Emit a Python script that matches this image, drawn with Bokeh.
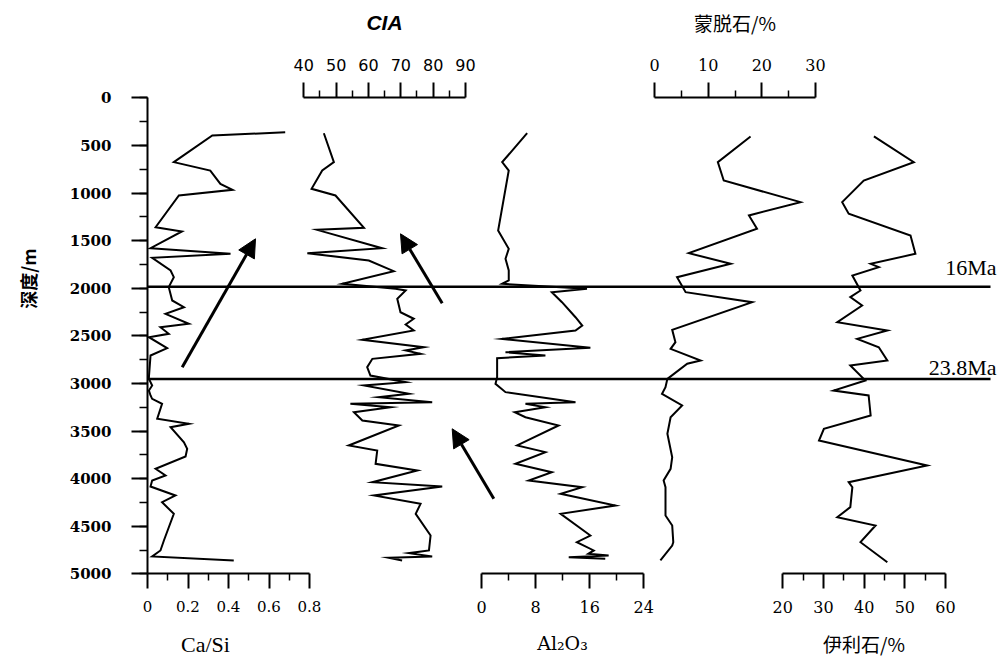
from math import pi
from bokeh.plotting import figure
from bokeh.models import Range1d, LinearAxis, FixedTicker, SingleIntervalTicker, Arrow, NormalHead
from bokeh.core.properties import value
from bokeh.embed import file_html
from bokeh.resources import INLINE

# ---------------- data ----------------
casi_depth = [363, 396, 676, 764, 904, 967, 1026, 1359, 1404, 1580, 1639, 1681, 1814, 1884, 1989, 2129,
              2200, 2269, 2374, 2410, 2479, 2515, 2630, 2707, 2935, 2952, 3022, 3075, 3127, 3162, 3215,
              3372, 3424, 3460, 3618, 3687, 3768, 3897, 3967, 4020, 4083, 4177, 4248, 4370, 4650, 4755,
              4818, 4860]
casi = [0.68, 0.32, 0.13, 0.31, 0.36, 0.42, 0.155, 0.04, 0.17, 0.015, 0.41, 0.023, 0.114, 0.13, 0.105,
        0.122, 0.18, 0.089, 0.204, 0.064, 0.105, 0.007, 0.097, 0.015, 0.007, 0.007, 0.023, 0.007, 0.015,
        0.023, 0.072, 0.048, 0.204, 0.114, 0.18, 0.196, 0.188, 0.04, 0.089, 0.023, 0.015, 0.138, 0.072,
        0.13, 0.081, 0.064, 0.023, 0.426]

cia_depth = [372, 676, 764, 956, 1026, 1366, 1387, 1580, 1632, 1709, 1821, 1954, 2006, 2024, 2111, 2252,
             2321, 2381, 2444, 2542, 2620, 2654, 2689, 2742, 2830, 2917, 2987, 3022, 3109, 3145, 3197,
             3215, 3250, 3303, 3390, 3442, 3652, 3705, 3845, 3915, 4038, 4083, 4177, 4265, 4370, 4598,
             4755, 4783, 4818, 4832, 4860]
cia = [46.2, 49.3, 45.7, 42.4, 49.8, 58.6, 44.1, 64.2, 41.1, 60.1, 67.8, 51.9, 68.4, 71.5, 68.9, 69.9,
       74.0, 71.5, 74.0, 58.1, 77.1, 71.5, 76.1, 61.2, 59.6, 60.6, 71.5, 58.6, 72.5, 63.2, 79.7, 54.4,
       66.8, 55.5, 58.1, 69.4, 53.9, 62.7, 62.2, 75.1, 61.2, 82.8, 61.7, 76.1, 74.6, 79.2, 78.7, 72.5,
       79.7, 66.3, 70.4]

al_depth = [372, 676, 764, 1394, 1586, 1691, 1814, 1919, 1954, 2006, 2042, 2147, 2305, 2392, 2444, 2532,
            2626, 2672, 2707, 2735, 2935, 3004, 3092, 3197, 3215, 3250, 3303, 3355, 3442, 3652, 3722,
            3845, 3933, 4020, 4090, 4160, 4283, 4370, 4598, 4668, 4755, 4790, 4808, 4826, 4843]
al2o3 = [6.75, 3.06, 4.03, 2.46, 4.03, 3.55, 4.03, 4.03, 3.06, 15.6, 10.4, 11.9, 13.9, 14.9, 13.9, 3.06,
         16.1, 3.55, 9.45, 2.31, 2.31, 2.07, 3.55, 13.9, 6.5, 9.45, 4.92, 6.5, 11.4, 5.27, 9.45, 5.02,
         10.4, 6.99, 14.9, 11.7, 19.8, 11.7, 16.1, 14.1, 16.6, 15.8, 18.8, 12.9, 18.3]

sm_depth = [406, 676, 869, 1096, 1236, 1376, 1632, 1744, 1884, 2042, 2147, 2437, 2567, 2637, 2759, 2794,
            2952, 3040, 3109, 3232, 3355, 3529, 3775, 3897, 4020, 4090, 4230, 4388, 4493, 4668, 4703, 4860]
smectite = [17.9, 11.8, 12.9, 27.2, 17.6, 19.1, 6.4, 14.2, 4.2, 5.8, 18.2, 3.3, 3.9, 3.0, 8.6, 6.1, 2.4,
            2.05, 1.4, 5.15, 3.0, 2.4, 3.3, 3.0, 1.7, 2.05, 2.05, 2.05, 3.3, 3.5, 3.3, 1.1]

il_depth = [406, 676, 869, 1096, 1218, 1446, 1639, 1744, 1779, 1867, 2024, 2094, 2182, 2357, 2444, 2532,
            2620, 2759, 2812, 2970, 3075, 3127, 3337, 3477, 3600, 3862, 4038, 4090, 4300, 4405, 4493,
            4668, 4878]
illite = [42.4, 52.2, 39.9, 34.6, 36.2, 51.4, 52.6, 41.6, 43.6, 37.1, 39.1, 36.6, 39.5, 33.4, 45.7, 38.3,
          43.6, 45.7, 36.6, 40.3, 32.5, 41.1, 41.6, 30.1, 28.9, 55.5, 36.2, 37.1, 36.6, 33.4, 42.8, 39.1,
          45.7]

casi_ticks = [0, 0.2, 0.4, 0.6, 0.8]
casi_minor = [0.1, 0.3, 0.5, 0.7]
cia_ticks = [40, 50, 60, 70, 80, 90]
cia_minor = [45, 55, 65, 75, 85]
al_ticks = [0, 8, 16, 24]
al_minor = [4, 12, 20]
sm_ticks = [0, 10, 20, 30]
sm_minor = [5, 15, 25]
il_ticks = [20, 30, 40, 50, 60]
il_minor = [25, 35, 45, 55]
depth_bounds = (0, 5000)
depth_step = 500

boundary_depths = [1985, 2955]
boundary_labels = ["16Ma", "23.8Ma"]

# ---------------- layout (page pixels -> data) ----------------
W, H = 1000, 657
LEFT, RIGHT, TOP, BOTTOM = 0, 1000, 0, 657

anchors = {
    "casi": (0, 147.0, 0.8, 309.0),
    "cia": (40, 303.3, 90, 465.0),
    "al": (0, 481.0, 24, 643.3),
    "sm": (0, 654.0, 30, 815.0),
    "il": (20, 782.3, 60, 945.0),
}
dep_anchor = (0, 97.3, 5000, 573.3)


def to_val(a, px):
    v0, p0, v1, p1 = a
    return v0 + (px - p0) * (v1 - v0) / (p1 - p0)


def rng(a, lo, hi):
    return Range1d(to_val(a, lo), to_val(a, hi))


y_range = Range1d(to_val(dep_anchor, BOTTOM), to_val(dep_anchor, TOP))

p = figure(width=W, height=H, x_range=rng(anchors["casi"], LEFT, RIGHT), y_range=y_range,
           x_axis_type=None, y_axis_type=None, toolbar_location=None, output_backend="svg",
           min_border=0)
p.outline_line_color = None
p.background_fill_color = "white"
p.border_fill_color = "white"
p.extra_x_ranges = {k: rng(anchors[k], LEFT, RIGHT) for k in ["cia", "al", "sm", "il"]}

SERIF = "DejaVu Serif"
CJK = "Noto Sans CJK SC"


def style(ax, font=SERIF, size="16px", lstand=12, bold=False):
    ax.axis_line_color = "black"
    ax.axis_line_width = 2
    ax.major_tick_line_color = "black"
    ax.major_tick_line_width = 2
    ax.minor_tick_line_color = "black"
    ax.minor_tick_line_width = 1.5
    ax.major_tick_in = 0
    ax.major_tick_out = 15
    ax.minor_tick_in = 0
    ax.minor_tick_out = 7
    ax.major_label_text_font = font
    ax.major_label_text_font_size = size
    ax.major_label_text_color = "black"
    ax.major_label_text_font_style = "bold" if bold else "normal"
    ax.major_label_standoff = lstand
    ax.axis_label_text_color = "black"
    ax.axis_label_text_font_style = "normal"
    return ax


# depth axis
yax = LinearAxis(fixed_location=0, ticker=SingleIntervalTicker(interval=depth_step, num_minor_ticks=2),
                 bounds=depth_bounds)
style(yax, size="15px", lstand=20, bold=True)
yax.major_tick_out = 16
yax.minor_tick_out = 8
p.add_layout(yax, "left")

# Ca/Si
ax1 = LinearAxis(fixed_location=5000, ticker=FixedTicker(ticks=casi_ticks, minor_ticks=casi_minor),
                 bounds=(0, 0.8), major_label_overrides={0: "0"})
style(ax1, size="15px")
p.add_layout(ax1, "below")

# CIA
ax2 = LinearAxis(x_range_name="cia", fixed_location=0,
                 ticker=FixedTicker(ticks=cia_ticks, minor_ticks=cia_minor), bounds=(40, 90),
                 axis_label="CIA")
style(ax2, font="DejaVu Sans", size="16px")
ax2.axis_label_text_font = "Liberation Sans"
ax2.axis_label_text_font_size = "21px"
ax2.axis_label_text_font_style = "bold italic"
ax2.axis_label_standoff = 22
p.add_layout(ax2, "above")

# Al2O3
ax3 = LinearAxis(x_range_name="al", fixed_location=5000,
                 ticker=FixedTicker(ticks=al_ticks, minor_ticks=al_minor), bounds=(0, 24),
                 axis_label="Al₂O₃")
style(ax3)
ax3.axis_label_text_font = "DejaVu Serif"
ax3.axis_label_text_font_size = "19px"
ax3.axis_label_standoff = 16
p.add_layout(ax3, "below")

# smectite
ax4 = LinearAxis(x_range_name="sm", fixed_location=0,
                 ticker=FixedTicker(ticks=sm_ticks, minor_ticks=sm_minor), bounds=(0, 30),
                 axis_label="蒙脱石/%")
style(ax4)
ax4.axis_label_text_font = CJK
ax4.axis_label_text_font_size = "19px"
ax4.axis_label_standoff = 20
p.add_layout(ax4, "above")

# illite
ax5 = LinearAxis(x_range_name="il", fixed_location=5000,
                 ticker=FixedTicker(ticks=il_ticks, minor_ticks=il_minor), bounds=(20, 60),
                 axis_label="伊利石/%")
style(ax5)
ax5.axis_label_text_font = CJK
ax5.axis_label_text_font_size = "19px"
ax5.axis_label_standoff = 14
p.add_layout(ax5, "below")

# data lines
lk = dict(line_color="black", line_width=2, line_join="miter")
p.line(casi, casi_depth, **lk)
p.line(cia, cia_depth, x_range_name="cia", **lk)
p.line(al2o3, al_depth, x_range_name="al", **lk)
p.line(smectite, sm_depth, x_range_name="sm", **lk)
p.line(illite, il_depth, x_range_name="il", **lk)

# boundary lines
x_end = to_val(anchors["casi"], 990)
p.segment(x0=[0] * len(boundary_depths), y0=boundary_depths, x1=[x_end] * len(boundary_depths),
          y1=boundary_depths, line_color="black", line_width=2.5)
lab_x = to_val(anchors["il"], 996)
lab_y = [to_val(dep_anchor, 266.5), to_val(dep_anchor, 366.5)]
p.text(x=[lab_x] * 2, y=lab_y, text=boundary_labels, x_range_name="il",
       text_font=value("Liberation Serif"), text_font_size="22px", text_align="right",
       text_baseline="alphabetic", text_color="black")

# titles
p.text(x=[to_val(anchors["casi"], 205)], y=[to_val(dep_anchor, 644)], text=["Ca/Si"],
       text_font=value("Liberation Serif"), text_font_size="22px", text_align="center",
       text_baseline="middle", text_color="black")
p.text(x=[to_val(anchors["casi"], 27)], y=[to_val(dep_anchor, 278)], text=["深度/m"], angle=pi / 2,
       text_font=value(CJK), text_font_size="18px", text_font_style="bold", text_align="center",
       text_baseline="middle", text_color="black")

# arrows
head = dict(size=18, fill_color="black", line_color="black")
ca = anchors["casi"]
ci = anchors["cia"]
p.add_layout(Arrow(x_start=to_val(ca, 181.7), y_start=to_val(dep_anchor, 366.7),
                   x_end=to_val(ca, 255.0), y_end=to_val(dep_anchor, 238.3),
                   end=NormalHead(**head), line_width=3, line_color="black"))
p.add_layout(Arrow(x_start=to_val(ci, 441.7), y_start=to_val(dep_anchor, 302.7),
                   x_end=to_val(ci, 400.0), y_end=to_val(dep_anchor, 233.3), x_range_name="cia",
                   end=NormalHead(**head), line_width=3, line_color="black"))
p.add_layout(Arrow(x_start=to_val(ci, 493.3), y_start=to_val(dep_anchor, 498.3),
                   x_end=to_val(ci, 451.7), y_end=to_val(dep_anchor, 428.3), x_range_name="cia",
                   end=NormalHead(**head), line_width=3, line_color="black"))

open("out.html", "w").write(file_html(p, INLINE))
